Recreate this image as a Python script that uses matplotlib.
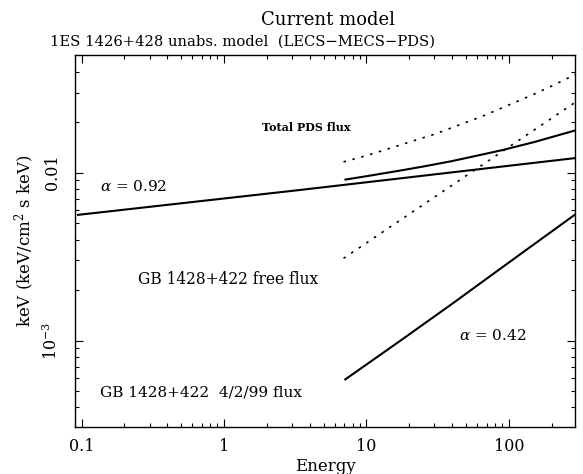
import matplotlib

matplotlib.use("Agg")
import matplotlib.pyplot as plt
from matplotlib.ticker import FixedLocator, FuncFormatter, LogLocator, NullFormatter

# %% data (energy in keV, flux in keV (keV/cm2 s keV))

# 1ES 1426+428, alpha = 0.92
e_1es = [0.093, 3.42, 295.0]
f_1es = [0.0056, 0.00789, 0.01223]

# GB 1428+422 4/2/99 flux (PDS range)
e_gb = [7.0, 10.0, 17.2, 25.0, 39.8, 86.5, 150.0, 295.0]
f_gb = [5.83e-4, 7.21e-4, 9.96e-4, 1.249e-3, 1.654e-3, 2.672e-3, 3.75e-3, 5.68e-3]

# total PDS flux with the 4/2/99 GB flux
e_tot = [7.0, 10.0, 17.2, 25.0, 39.8, 86.5, 150.0, 295.0]
f_tot = [0.00908, 0.00953, 0.01029, 0.01088, 0.01172, 0.01353, 0.01521, 0.0179]

# GB 1428+422 free flux
e_free = [6.9, 295.0]
f_free = [3.09e-3, 0.0264]

# total PDS flux with the free GB flux
e_totfree = [6.9, 10.0, 30.0, 65.0, 150.0, 200.0, 295.0]
f_totfree = [0.0116, 0.01263, 0.01694, 0.02166, 0.02934, 0.03284, 0.0386]

xticks = [0.1, 1, 10, 100]
xticklabels = ["0.1", "1", "10", "100"]
yticks = [0.001, 0.01]
yticklabels = {0.001: r"$10^{-3}$", 0.01: "0.01"}

# %% style
plt.rcParams["font.family"] = ["DejaVu Serif"]
plt.rcParams["mathtext.fontset"] = "dejavuserif"

fig = plt.figure(figsize=(5.83, 4.74), dpi=100)
ax = fig.add_axes([75 / 583, 47 / 474, 500.3 / 583, 372 / 474])
ax.set_xscale("log")
ax.set_yscale("log")
ax.set_xlim(0.09, 292)
ax.set_ylim(3.06e-4, 0.0502)

solid = dict(color="black", linewidth=1.5, solid_capstyle="butt")
dotted = dict(color="black", linewidth=1.2, linestyle=(0, (1.5, 4)))

ax.plot(e_1es, f_1es, **solid)
ax.plot(e_gb, f_gb, **solid)
ax.plot(e_tot, f_tot, **solid)
ax.plot(e_free, f_free, **dotted)
ax.plot(e_totfree, f_totfree, **dotted)

# annotations
ax.text(0.135, 0.00822, r"$\alpha$ = 0.92", fontsize=11, va="center")
ax.text(44.6, 1.07e-3, r"$\alpha$ = 0.42", fontsize=11, va="center")
ax.text(1.85, 0.01846, "Total PDS flux", fontsize=8, fontweight="bold", va="center")
ax.text(0.249, 2.30e-3, "GB 1428+422 free flux", fontsize=11.2, va="center")
ax.text(0.135, 4.89e-4, "GB 1428+422  4/2/99 flux", fontsize=11, va="center")

# axes ticks, pgplot-like: inward on all four sides
ax.xaxis.set_major_locator(FixedLocator(xticks))
ax.xaxis.set_major_formatter(FuncFormatter(lambda v, p: xticklabels[xticks.index(v)] if v in xticks else ""))
ax.xaxis.set_minor_locator(LogLocator(base=10, subs=range(2, 10), numticks=20))
ax.xaxis.set_minor_formatter(NullFormatter())
ax.yaxis.set_major_locator(FixedLocator(yticks))
ax.yaxis.set_major_formatter(FuncFormatter(lambda v, p: yticklabels.get(round(v, 6), "")))
ax.yaxis.set_minor_locator(LogLocator(base=10, subs=range(2, 10), numticks=20))
ax.yaxis.set_minor_formatter(NullFormatter())

ax.tick_params(which="both", direction="in", top=True, right=True, width=0.8, colors="black")
ax.tick_params(which="major", length=5.5)
ax.tick_params(which="minor", length=3)
ax.tick_params(axis="x", labelsize=11.5, pad=8)
ax.tick_params(axis="y", labelsize=11.5, pad=10)
for lab in ax.get_yticklabels():
    lab.set_rotation(90)
    lab.set_va("center")
for spine in ax.spines.values():
    spine.set_linewidth(1.0)

ax.set_xlabel("Energy", fontsize=12, labelpad=2)
ax.set_ylabel(r"keV (keV/cm$^2$ s keV)", fontsize=12, va="center")
ax.yaxis.set_label_coords(-0.1, 0.5)

fig.text(328 / 583, 1 - 20 / 474, "Current model", ha="center", va="center", fontsize=13)
fig.text(50 / 583, 1 - 42 / 474, "1ES 1426+428 unabs. model  (LECS\u2212MECS\u2212PDS)",
         ha="left", va="center", fontsize=10.6)

fig.savefig("out.png", dpi=100)
